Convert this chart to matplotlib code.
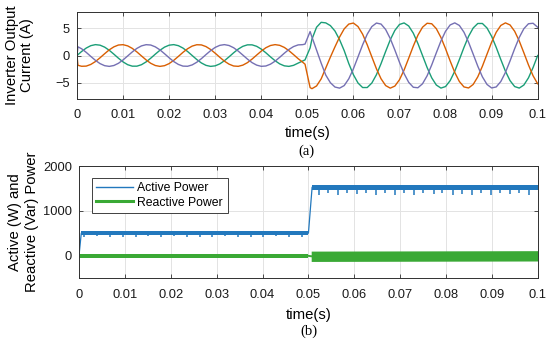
import matplotlib
matplotlib.use("Agg")
import matplotlib.pyplot as plt
from matplotlib.lines import Line2D
import numpy as np

plt.rcParams['font.family'] = ['Liberation Sans', 'DejaVu Sans']

# ---------------- data ----------------
# sample times in ms for the three-phase current
t_ms = [0, 0.2] + list(range(1, 50)) + [49.5, 50.6] + list(range(51, 101))

ia_green = [0, 0.15,
            0.74, 1.37, 1.81, 2.0, 1.9, 1.54, 0.96, 0.25, -0.5, -1.18,
            -1.69, -1.96, -1.96, -1.69, -1.18, -0.5, 0.25, 0.96, 1.54, 1.9,
            2.0, 1.81, 1.37, 0.74, 0, -0.74, -1.37, -1.81, -2.0, -1.9,
            -1.54, -0.96, -0.25, 0.5, 1.18, 1.69, 1.96, 1.96, 1.69, 1.18,
            0.5, -0.25, -0.96, -1.54, -1.9, -2.0, -1.81, -1.4, -1.0,
            -0.8, 1.4,
            3.0, 5.2, 6.1, 6.0, 5.5, 4.5, 2.9, 0.9, -1.49, -3.53,
            -5.06, -5.89, -5.89, -5.06, -3.53, -1.49, 0.75, 2.89, 4.62, 5.71,
            5.99, 5.43, 4.11, 2.21, 0, -2.21, -4.11, -5.43, -5.99, -5.71,
            -4.62, -2.89, -0.75, 1.49, 3.53, 5.06, 5.89, 5.89, 5.06, 3.53,
            1.49, -0.75, -2.89, -4.62, -5.71, -5.99, -5.43, -4.11, -2.21, 0]

ib_orange = [0, -1.8,
             -1.98, -1.95, -1.64, -1.11, -0.42, 0.33, 1.04, 1.59, 1.93, 1.99,
             1.77, 1.31, 0.66, -0.08, -0.81, -1.43, -1.84, -2.0, -1.87, -1.49,
             -0.89, -0.17, 0.58, 1.24, 1.73, 1.98, 1.95, 1.64, 1.11, 0.42,
             -0.33, -1.04, -1.59, -1.93, -1.99, -1.77, -1.31, -0.66, 0.08, 0.81,
             1.43, 1.84, 2.0, 1.87, 1.49, 0.89, 0.17, -0.58, -1.24,
             -1.6, -5.9,
             -6.1, -5.6, -4.3, -2.3, -0.3, 1.6, 3.4, 4.9, 5.78, 5.97,
             5.32, 3.92, 1.97, -0.25, -2.44, -4.28, -5.53, -6.0, -5.62, -4.46,
             -2.67, -0.5, 1.73, 3.73, 5.2, 5.93, 5.84, 4.93, 3.32, 1.25,
             -1.0, -3.11, -4.78, -5.78, -5.97, -5.32, -3.92, -1.97, 0.25, 2.44,
             4.28, 5.53, 6.0, 5.62, 4.46, 2.67, 0.5, -1.73, -3.73, -5.2]

ic_purple = [0, 1.6,
             1.24, 0.58, -0.17, -0.89, -1.49, -1.87, -2.0, -1.84, -1.43, -0.81,
             -0.08, 0.66, 1.31, 1.77, 1.99, 1.93, 1.59, 1.04, 0.33, -0.42,
             -1.11, -1.64, -1.95, -1.98, -1.73, -1.24, -0.58, 0.17, 0.89, 1.49,
             1.87, 2.0, 1.84, 1.43, 0.81, 0.08, -0.66, -1.31, -1.77, -1.99,
             -1.93, -1.59, -1.04, -0.33, 0.42, 1.11, 1.64, 1.95, 2.0,
             2.1, 4.4,
             3.4, 1.0, -1.4, -3.6, -5.0, -5.8, -6.0, -5.53, -4.28, -2.44,
             -0.25, 1.97, 3.92, 5.32, 5.97, 5.78, 4.78, 3.11, 1.0, -1.25,
             -3.32, -4.93, -5.84, -5.93, -5.2, -3.73, -1.73, 0.5, 2.67, 4.46,
             5.62, 6.0, 5.53, 4.28, 2.44, 0.25, -1.97, -3.92, -5.32, -5.97,
             -5.78, -4.78, -3.11, -1.0, 1.25, 3.32, 4.93, 5.84, 5.93, 5.2]

# power: mean trace, ripple half-width per segment, and dips
p_t = [0, 0.0005, 0.0500, 0.0508, 0.1]
p_active = [0, 505, 505, 1528, 1528]
p_ripple = [45, 55]          # half width of ripple band (before / after step)
q_t = [0, 0.0500, 0.0506, 0.1]
q_reactive = [0, 0, -10, 0]
q_ripple = [38, 115]

dip_t = [0.0012, 0.0040, 0.0068, 0.0096, 0.0124, 0.0151, 0.0179, 0.0207,
         0.0235, 0.0263, 0.0290, 0.0318, 0.0346, 0.0374, 0.0402, 0.0429,
         0.0457, 0.0485,
         0.0522, 0.0542, 0.0565, 0.0584, 0.0606, 0.0625, 0.0648, 0.0667,
         0.0689, 0.0709, 0.0731, 0.0750, 0.0773, 0.0792, 0.0814, 0.0834,
         0.0856, 0.0875, 0.0898, 0.0917, 0.0939, 0.0959, 0.0981]
dip_p = [420, 435, 415, 430, 425, 440, 420, 435, 415, 430, 425, 435, 420,
         430, 415, 435, 425, 430,
         1360, 1400, 1350, 1390, 1370, 1410, 1355, 1395, 1365, 1400, 1350,
         1390, 1375, 1405, 1355, 1385, 1365, 1400, 1350, 1395, 1370, 1405, 1360]

xticks = [0, 0.01, 0.02, 0.03, 0.04, 0.05, 0.06, 0.07, 0.08, 0.09, 0.1]
xticklabels = ['0', '0.01', '0.02', '0.03', '0.04', '0.05', '0.06', '0.07',
               '0.08', '0.09', '0.1']
yticks_i = [-5, 0, 5]
yticks_p = [0, 1000, 2000]

# ---------------- styling ----------------
C_GREEN, C_ORANGE, C_PURPLE = '#1b9e77', '#d95f02', '#7570b3'
C_BLUE, C_QGREEN = '#2278bd', '#3aa935'
AX_COL = '#303030'
TICK_FS = 9.3
LAB_FS = 10.7

fig = plt.figure(figsize=(5.5, 3.42), dpi=100)
ax1 = fig.add_axes([0.1400, 0.7105, 0.8376, 0.2544])
ax2 = fig.add_axes([0.1436, 0.1863, 0.8344, 0.3283])


def style(ax):
    ax.set_xlim(0, 0.1)
    ax.set_xticks(xticks)
    ax.set_xticklabels(xticklabels)
    ax.grid(True, color='#e3e3e3', linewidth=0.7)
    ax.set_axisbelow(True)
    for s in ax.spines.values():
        s.set_color(AX_COL)
        s.set_linewidth(0.7)
    ax.tick_params(direction='in', top=True, right=True, length=3,
                   width=0.6, color=AX_COL, labelsize=TICK_FS,
                   labelcolor='#1a1a1a')
    ax.tick_params(axis='x', pad=7.5)
    ax.tick_params(axis='y', pad=5.0)


t_s = np.array(t_ms) / 1000.0
ax1.plot(t_s, ia_green, color=C_GREEN, lw=1.0)
ax1.plot(t_s, ib_orange, color=C_ORANGE, lw=1.0)
ax1.plot(t_s, ic_purple, color=C_PURPLE, lw=1.0)
style(ax1)
ax1.set_ylim(-8, 8)
ax1.set_yticks(yticks_i)
ax1.set_ylabel('Inverter Output\nCurrent (A)', fontsize=LAB_FS, linespacing=1.15)
ax1.yaxis.set_label_coords(-0.093, 0.5)
ax1.set_xlabel('time(s)', fontsize=LAB_FS)
ax1.xaxis.set_label_coords(0.5, -0.31)

# power subplot
pa = np.array(p_active, float)
pt = np.array(p_t)
qa = np.array(q_reactive, float)
qt = np.array(q_t)
# ripple bands of each flat segment
ax2.fill_between(pt[1:3], pa[1:3] - p_ripple[0], pa[1:3] + p_ripple[0],
                 color=C_BLUE, lw=0)
ax2.fill_between(pt[3:5], pa[3:5] - p_ripple[1], pa[3:5] + p_ripple[1],
                 color=C_BLUE, lw=0)
ax2.plot(pt, pa, color=C_BLUE, lw=0.9)
dip_t_a = np.array(dip_t)
dip_top = np.where(dip_t_a < 0.05, p_active[1], p_active[3])
ax2.vlines(dip_t_a, dip_p, dip_top, color=C_BLUE, lw=1.1)

ax2.fill_between(qt[0:2], qa[0:2] - q_ripple[0], qa[0:2] + q_ripple[0],
                 color=C_QGREEN, lw=0)
ax2.fill_between(qt[2:4], qa[2:4] - q_ripple[1], qa[2:4] + q_ripple[1],
                 color=C_QGREEN, lw=0)
ax2.plot(qt, qa, color=C_QGREEN, lw=1.4)

style(ax2)
ax2.set_ylim(-500, 2000)
ax2.set_yticks(yticks_p)
ax2.set_ylabel('Active (W) and\nReactive (Var) Power', fontsize=LAB_FS,
               linespacing=1.2)
ax2.yaxis.set_label_coords(-0.088, 0.5)
ax2.set_xlabel('time(s)', fontsize=LAB_FS)
ax2.xaxis.set_label_coords(0.5, -0.265)

handles = [Line2D([], [], color=C_BLUE, lw=1.0),
           Line2D([], [], color=C_QGREEN, lw=2.2)]
leg = ax2.legend(handles, ['Active Power', 'Reactive Power'],
                 loc='upper left', bbox_to_anchor=(0.028, 0.896),
                 borderaxespad=0, fontsize=8.8, handlelength=3.0,
                 handletextpad=0.35, labelspacing=0.2, borderpad=0.38,
                 fancybox=False, framealpha=1, edgecolor='#404040')
leg.get_frame().set_linewidth(0.7)

fig.text(0.558, 0.5585, '(a)', ha='center', va='center', fontsize=10.5,
         family=['Liberation Serif', 'DejaVu Serif'])
fig.text(0.561, 0.032, '(b)', ha='center', va='center', fontsize=10.5,
         family=['Liberation Serif', 'DejaVu Serif'])

fig.savefig('out.png', dpi=100)
